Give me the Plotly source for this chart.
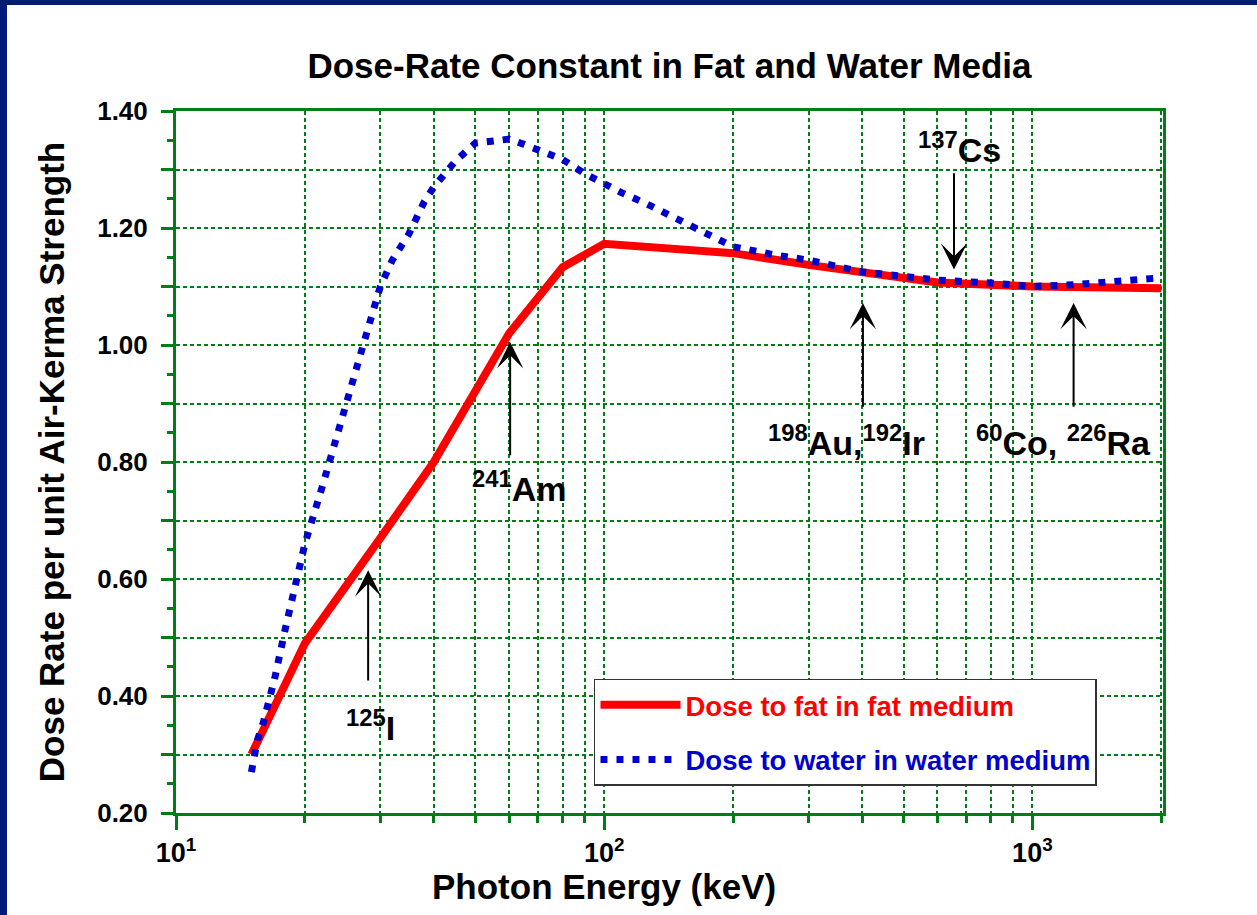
import math
import plotly.graph_objects as go

# ---- data ----
fat_energy = [15, 20, 30, 40, 60, 80, 100, 200, 300, 400, 600, 1000, 2000]
fat_dose = [0.30, 0.49, 0.67, 0.80, 1.02, 1.133, 1.173, 1.157, 1.137, 1.124, 1.107, 1.100, 1.097]

water_energy = [15, 15.5, 16, 17, 18, 19, 20, 22, 25, 27, 28, 30, 32, 35, 38, 40, 45, 50, 55,
                60, 65, 70, 80, 90, 100, 110, 125, 150, 175, 200, 250, 300, 400, 500, 600,
                800, 1000, 1250, 1500, 2000]
water_dose = [0.27, 0.325, 0.355, 0.43, 0.515, 0.59, 0.66, 0.76, 0.905, 0.99, 1.025, 1.10,
              1.145, 1.19, 1.245, 1.27, 1.315, 1.345, 1.350, 1.352, 1.343, 1.333, 1.317, 1.293,
              1.275, 1.260, 1.242, 1.213, 1.188, 1.168, 1.154, 1.145, 1.125, 1.118, 1.111,
              1.106, 1.100, 1.103, 1.108, 1.115]

y_ticks = [0.2, 0.3, 0.4, 0.5, 0.6, 0.7, 0.8, 0.9, 1.0, 1.1, 1.2, 1.3, 1.4]
y_ticktext = ["0.20", "", "0.40", "", "0.60", "", "0.80", "", "1.00", "", "1.20", "", "1.40"]
x_ticks = [10, 100, 1000]
x_ticktext = ["10<sup>1</sup>", "10<sup>2</sup>", "10<sup>3</sup>"]

# source labels: (text, energy, value)
labels = [
    ("<sup>125</sup>I", 28.5, 0.350),
    ("<sup>241</sup>Am", 63.5, 0.758),
    ("<sup>198</sup>Au,<sup>192</sup>Ir", 368.7, 0.836),
    ("<sup>60</sup>Co, <sup>226</sup>Ra", 1185, 0.836),
    ("<sup>137</sup>Cs", 675, 1.337),
]
# arrows: (energy, tail value, tip value)
arrows = [
    (28.1, 0.424, 0.615),
    (60.3, 0.809, 1.005),
    (402, 0.892, 1.072),
    (1248, 0.892, 1.072),
    (656, 1.296, 1.129),
]

GREEN = "#007d15"
FONT = "Liberation Sans, Arial, sans-serif"

fig = go.Figure()
fig.add_trace(go.Scatter(x=fat_energy, y=fat_dose, mode="lines",
                         name='<span style="color:#ff0000">Dose to fat in fat medium</span>',
                         legendgroup="a",
                         line=dict(color="#ff0000", width=8)))
fig.add_trace(go.Scatter(x=water_energy, y=water_dose, mode="lines",
                         name='<span style="color:#0000cc">Dose to water in water medium</span>',
                         legendgroup="b",
                         line=dict(color="#0000cc", width=7, dash="7px,9px")))

annotations = []
for text, e, v in labels:
    annotations.append(dict(x=math.log10(e), y=v, xref="x", yref="y", text=text,
                            showarrow=False,
                            font=dict(family=FONT, size=34, color="black", weight="bold")))
for e, tail, tip in arrows:
    lx = math.log10(e)
    annotations.append(dict(x=lx, y=tip, ax=lx, ay=tail, xref="x", yref="y",
                            axref="x", ayref="y", text="", showarrow=True,
                            arrowhead=3, arrowsize=2.2, arrowwidth=2, arrowcolor="black"))
# x-axis title (centred under 10^2 as in the original)
annotations.append(dict(text="Photon Energy (keV)", xref="paper", yref="paper",
                        x=(604 - 176) / 987, y=-0.105, xanchor="center", yanchor="middle",
                        showarrow=False,
                        font=dict(family=FONT, size=35, color="black", weight="bold")))

fig.update_layout(
    width=1257, height=915,
    margin=dict(l=176, r=94, t=111, b=102),
    paper_bgcolor="white", plot_bgcolor="white",
    title=dict(text="Dose-Rate Constant in Fat and Water Media", x=0.5, xref="paper",
               y=1 - 66 / 915, yref="container", yanchor="middle", xanchor="center",
               font=dict(family=FONT, size=35, color="black", weight="bold")),
    font=dict(family=FONT, color="black"),
    showlegend=True,
    legend=dict(x=0.4235, y=0.191, xanchor="left", yanchor="top",
                bgcolor="white", bordercolor="#333333", borderwidth=1.5,
                font=dict(family=FONT, size=27.5, weight="bold"),
                itemwidth=80, tracegroupgap=16, traceorder="grouped"),
    annotations=annotations,
    shapes=[
        dict(type="rect", xref="paper", yref="paper", x0=-0.2, x1=-0.17123, y0=-0.2, y1=1.2,
             fillcolor="#001c78", line=dict(width=0), layer="above"),
        dict(type="rect", xref="paper", yref="paper", x0=-0.2, x1=1.2, y0=1.151, y1=1.2,
             fillcolor="#001c70", line=dict(width=0), layer="above"),
    ],
)

fig.update_xaxes(type="log", range=[1, 3.305],
                 tickmode="array", tickvals=x_ticks, ticktext=x_ticktext,
                 ticks="outside", ticklen=14, tickwidth=3, tickcolor=GREEN,
                 tickfont=dict(family=FONT, size=27, color="black", weight="bold"),
                 showline=True, linecolor=GREEN, linewidth=3, mirror=True,
                 showgrid=True, gridcolor=GREEN, gridwidth=2, griddash="4px,3px",
                 minor=dict(dtick="D1", ticks="outside", ticklen=7, tickwidth=3,
                            tickcolor=GREEN, showgrid=True, gridcolor=GREEN,
                            gridwidth=2, griddash="4px,3px"),
                 zeroline=False)
fig.update_yaxes(range=[0.2, 1.4],
                 tickmode="array", tickvals=y_ticks, ticktext=y_ticktext,
                 ticks="outside", ticklen=12, tickwidth=3, tickcolor=GREEN,
                 ticklabelstandoff=8,
                 tickfont=dict(family=FONT, size=26, color="black", weight="bold"),
                 showline=True, linecolor=GREEN, linewidth=3, mirror=True,
                 showgrid=True, gridcolor=GREEN, gridwidth=2, griddash="4px,3px",
                 minor=dict(dtick=0.05, tick0=0, ticks="outside", ticklen=6, tickwidth=3,
                            tickcolor=GREEN, showgrid=False),
                 zeroline=False,
                 title=dict(text="Dose Rate per unit Air-Kerma Strength", standoff=22,
                            font=dict(family=FONT, size=35, color="black", weight="bold")))

fig.write_html("out.html", config={"displayModeBar": False},
               post_script="document.body.style.margin='0px';")
